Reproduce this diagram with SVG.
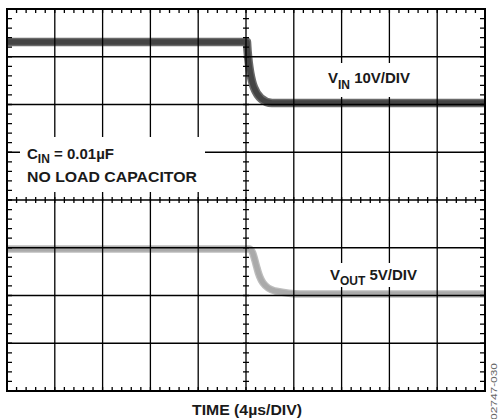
<svg xmlns="http://www.w3.org/2000/svg" width="504" height="419" viewBox="0 0 504 419">
<style>
.g{stroke:#000;stroke-width:1.3;fill:none}
.tk{stroke:#000;fill:none}
.tx{stroke-dasharray:1.3 8.26;stroke-dashoffset:0.65}
.ty{stroke-dasharray:1.3 8.25;stroke-dashoffset:0.65}
.lbl{font-family:"Liberation Sans",Arial,Helvetica,sans-serif;font-weight:bold;font-size:15px;fill:#1a1a1a}
.sub{font-size:12px}
</style>
<rect width="504" height="419" fill="#fff"/>
<g id="traces" fill="none" stroke-linejoin="round">
<path d="M7,42 H247 L247.5,50 C250,80 254,102 272,103 H485" stroke="#6a6a6a" stroke-width="8.5"/>
<path d="M7,42 H247 L247.5,50 C250,80 254,102 272,103 H485" stroke="#444" stroke-width="5.5"/>
<path d="M7,249 H249 C253,249 254,258 257,268 C260,280 264,288 275,291 C285,293 292,294 300,294 H485" stroke="#bdbdbd" stroke-width="7.5"/>
<path d="M7,249 H249 C253,249 254,258 257,268 C260,280 264,288 275,291 C285,293 292,294 300,294 H485" stroke="#aaa" stroke-width="5"/>
</g>
<g id="grid">
<path class="g" d="M54.8,9V391M102.6,9V391M150.4,9V391M198.2,9V391M246,9V391M293.8,9V391M341.6,9V391M389.4,9V391M437.2,9V391"/>
<path class="g" d="M7,56.75H485M7,104.5H485M7,152.25H485M7,200H485M7,247.75H485M7,295.5H485M7,343.25H485"/>
<line class="tk tx" x1="7" y1="11" x2="485" y2="11" stroke-width="4"/>
<line class="tk tx" x1="7" y1="389" x2="485" y2="389" stroke-width="4"/>
<line class="tk tx" x1="7" y1="200" x2="485" y2="200" stroke-width="6"/>
<line class="tk ty" x1="9.5" y1="9" x2="9.5" y2="391" stroke-width="5"/>
<line class="tk ty" x1="482.5" y1="9" x2="482.5" y2="391" stroke-width="5"/>
<line class="tk ty" x1="246" y1="9" x2="246" y2="391" stroke-width="6"/>
<rect x="7" y="9" width="478" height="382" fill="none" stroke="#000" stroke-width="2"/>
</g>
<g id="label-cin">
<rect x="20" y="137" width="185" height="55" fill="#fff"/>
<text class="lbl" x="27" y="159">C<tspan class="sub" dy="4.3">IN</tspan><tspan dy="-4.3"> = 0.01µF</tspan></text>
<text class="lbl" x="27" y="182" textLength="170" lengthAdjust="spacingAndGlyphs">NO LOAD CAPACITOR</text>
</g>
<g id="label-vin">
<rect x="320" y="63" width="100" height="34" fill="#fff"/>
<text class="lbl" x="328" y="83">V<tspan class="sub" dy="5.5">IN</tspan><tspan dy="-5.5"> 10V/DIV</tspan></text>
</g>
<g id="label-vout">
<rect x="322" y="263" width="104" height="24" fill="#fff"/>
<text class="lbl" x="330" y="280">V<tspan class="sub" dy="4.5">OUT</tspan><tspan dy="-4.5"> 5V/DIV</tspan></text>
</g>
<g id="axis-label">
<text class="lbl" x="247" y="415" text-anchor="middle" textLength="110" lengthAdjust="spacingAndGlyphs">TIME (4µs/DIV)</text>
</g>
<text x="0" y="0" transform="translate(496.5,420) rotate(-90)" font-family="'Liberation Sans',Arial,sans-serif" font-size="8.5" fill="#666" textLength="57" lengthAdjust="spacingAndGlyphs">02747-030</text>
</svg>
